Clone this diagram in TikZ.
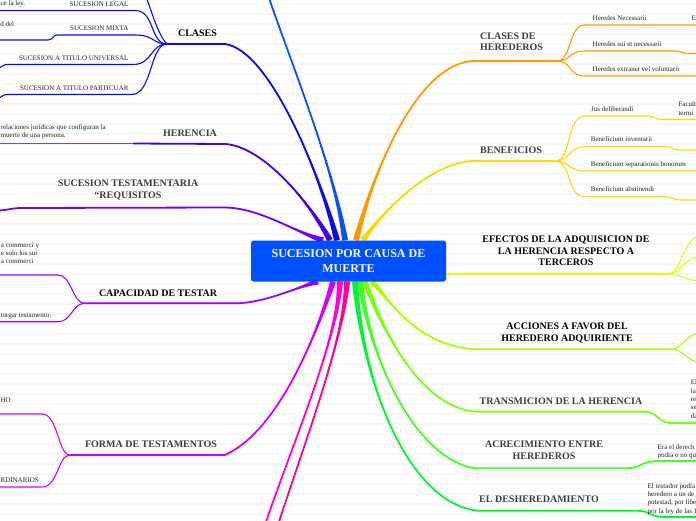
\documentclass[tikz,border=0pt]{standalone}
\usepackage{fontspec}
\setmainfont{Liberation Serif}
\usetikzlibrary{calc}
\definecolor{RootBlue}{HTML}{0050FF}
\definecolor{Azure}{HTML}{0A50FF}
\definecolor{Royal}{HTML}{0B0BEE}
\definecolor{Indigo}{HTML}{4400EE}
\definecolor{Violet}{HTML}{7000FF}
\definecolor{Purple}{HTML}{A000FF}
\definecolor{Orchid}{HTML}{D400FF}
\definecolor{Magenta}{HTML}{FF00DD}
\definecolor{Rose}{HTML}{FF0099}
\definecolor{Orange}{HTML}{FF9900}
\definecolor{Gold}{HTML}{FFD800}
\definecolor{Citron}{HTML}{DDFF00}
\definecolor{Chart}{HTML}{AAFF00}
\definecolor{Lime}{HTML}{77FF11}
\definecolor{Spring}{HTML}{44FF22}
\definecolor{Green}{HTML}{00F533}
\definecolor{Slate}{HTML}{3D3D3D}
\definecolor{Ink}{HTML}{222222}
\definecolor{Stripe}{HTML}{F7F7F7}
\pgfdeclarelayer{bg}
\pgfsetlayers{bg,main}
\tikzset{
  rootbox/.style={
    rounded corners=2.5pt,fill=RootBlue,text=white,align=center,
    minimum width=195pt,minimum height=41pt,inner sep=0pt,
    font=\fontsize{12}{14.4}\selectfont\bfseries
  },
  topic/.style={
    align=center,inner sep=0pt,text=Slate,execute at begin node=\strut,
    font=\fontsize{10}{11.3}\selectfont\bfseries
  },
  subtext/.style={inner sep=0pt,text=Ink,font=\fontsize{7}{8.3}\selectfont},
  leaftext/.style={
    inner sep=0pt,text=Ink,execute at begin node=\strut,
    font=\fontsize{7}{8.3}\selectfont
  },
  stem/.style={line width=1.8pt},
  twig/.style={line width=1.1pt},
  leafline/.style={line width=0.9pt}
}
% tapered main branch: colour, start, two controls, bend, rest of path
\newcommand\trunk[6]{%
  \fill[#1] ($(#2)!3pt!90:#3$) .. controls #3 and #4 .. #5
    .. controls #4 and #3 .. ($(#2)!3pt!-90:#3$) -- cycle;
  \draw[#1,stem] (#2) .. controls #3 and #4 .. #5 #6;}

\begin{document}
\begin{tikzpicture}[x=1pt,y=-1pt]
  \clip (0,0) rectangle (696,520);

  \node[rootbox] (root) at (348.5,261) {SUCESION POR CAUSA DE\\MUERTE};

  % topics
  \node[topic,text=black,anchor=base] (clases) at (197.5,36) {CLASES};
  \node[topic,anchor=base] (herencia) at (190,136) {HERENCIA};
  \node[topic,anchor=north] (testam) at (128,180.1) {SUCESION TESTAMENTARIA\\“REQUISITOS};
  \node[topic,align=left,anchor=north west] (claher) at (480,32.6) {CLASES DE\\HEREDEROS};
  \node[topic,anchor=base] (benef) at (511,153) {BENEFICIOS};
  \node[topic,text=black,anchor=north] (efectos) at (566,236.1) {EFECTOS DE LA ADQUISICION DE\\LA HERENCIA RESPECTO A\\TERCEROS};
  \node[topic,text=black,anchor=north] (acciones) at (567,323.1) {ACCIONES A FAVOR DEL\\HEREDERO ADQUIRIENTE};
  \node[topic,anchor=base] (transm) at (561,404) {TRANSMICION DE LA HERENCIA};
  \node[topic,anchor=north] (acrec) at (544,441.1) {ACRECIMIENTO ENTRE\\HEREDEROS};
  \node[topic,anchor=base] (desher) at (539,502) {EL DESHEREDAMIENTO};
  \node[topic,text=black,anchor=base] (capac) at (158,296) {CAPACIDAD DE TESTAR};
  \node[topic,anchor=base] (forma) at (151,447) {FORMA DE TESTAMENTOS};

  % subtopics
  \node[subtext,anchor=base east] (legal) at (128.7,6.3) {SUCESION LEGAL};
  \node[subtext,anchor=base east] (mixta) at (128.7,30.8) {SUCESION MIXTA};
  \node[subtext,anchor=base east] (univ) at (128.7,60.3) {SUCESION A TITULO UNIVERSAL};
  \node[subtext,anchor=base east] (partic) at (128.7,90.3) {SUCESION A TITULO PARTICUAR};
  \node[subtext,anchor=base west] (necess) at (592.5,20.3) {Heredes Necessarii};
  \node[subtext,anchor=base west] (suinec) at (592.5,46) {Heredes sui et necessarii};
  \node[subtext,anchor=base west] (extran) at (592.5,71.7) {Heredes extranei vel voluntarii};
  \node[subtext,anchor=base west] (jus) at (591,111.7) {Jus deliberandi};
  \node[subtext,anchor=base west] (invent) at (590.7,141) {Beneficium inventarii};
  \node[subtext,anchor=base west] (separ) at (590.7,166.7) {Beneficium separationis bonorum};
  \node[subtext,anchor=base west] (abstin) at (590.7,191.7) {Beneficium abstinendi};
  \node[subtext,anchor=base west] (formaHo) at (0.4,402.5) {HO};
  \node[subtext,anchor=base west] (formaOrd) at (0.4,482.7) {RDINARIOS};

  % leaves
  \node[leaftext,anchor=base west] (legalLeaf) at (0.4,5.5) {ce la ley.};
  \node[leaftext,anchor=base east] (mixtaLeaf) at (14.3,26.3) {d del};
  \node[leaftext,align=left,anchor=north west] (herLeaf) at (0.5,124.2) {relaciones jurídicas que configuran la\\muerte de una persona.};
  \node[leaftext,anchor=base west] (capLeafA) at (0.8,247) {a commerci y};
  \node[leaftext,anchor=base west] (capLeafB) at (0.8,255.3) {e solo los sui};
  \node[leaftext,anchor=base west] (capLeafC) at (0.8,263.3) {a commerci};
  \node[leaftext,anchor=base west] (capLeafD) at (0.4,317) {torgar testamento:};
  \node[leaftext,anchor=base west] (necLeaf) at (691.5,20) {E};
  \node[leaftext,align=left,anchor=north west] (jusLeaf) at (678.3,101.7) {Facult\\termi};
  \node[leaftext,align=left,anchor=north west] (transLeaf) at (690.7,379.8) {El\\la\\re\\se\\da};
  \node[leaftext,align=left,anchor=north west] (acrecLeaf) at (657.5,444.2) {Era el derech\\podia o no qu};
  \node[leaftext,align=left,anchor=north west] (desLeaf) at (647.5,483.2) {El testador podia\\heredero a un de\\potestad, por libe\\por la ley de las 1};

  % branch starts and junctions
  \coordinate (sTop) at ([xshift=-3.5pt]root.north);
  \coordinate (sClases) at ([xshift=-11.5pt]root.north);
  \coordinate (sHeren) at ([xshift=-18.5pt]root.north);
  \coordinate (sTestam) at ([xshift=-25.5pt]root.north);
  \coordinate (sClaHer) at ([xshift=7.5pt]root.north);
  \coordinate (sBenef) at ([xshift=14.5pt]root.north);
  \coordinate (sCapac) at ([xshift=-30.5pt]root.south);
  \coordinate (sForma) at ([xshift=-15.5pt]root.south);
  \coordinate (sPinkA) at ([xshift=-8.5pt]root.south);
  \coordinate (sPinkB) at ([xshift=-1.5pt]root.south);
  \coordinate (sDesher) at ([xshift=6.5pt]root.south);
  \coordinate (sAcrec) at ([xshift=11.5pt]root.south);
  \coordinate (sTransm) at ([xshift=16.5pt]root.south);
  \coordinate (sAccion) at ([xshift=23.5pt]root.south);
  \coordinate (jClases) at (167,44);
  \coordinate (jHeren) at (133,143.5);
  \coordinate (jClaHer) at (557,61);
  \coordinate (jBenef) at (555,161);
  \coordinate (jEfect) at (668,274);
  \coordinate (jAccion) at (672,349.3);
  \coordinate (jCapac) at (85,303.3);
  \coordinate (jForma) at (70,455);

  \begin{pgfonlayer}{bg}
    \foreach \y in {4,14,...,514}
      \draw[Stripe,line width=2pt] (0,\y) -- (696,\y);

    % main branches
    \trunk{Azure}{sTop}{(335,170)}{(290,60)}{(268,-5)}{}
    \trunk{Royal}{sClases}{(320,175)}{(270,50)}{(225,44)}{-- (jClases)}
    \trunk{Indigo}{sHeren}{(305,195)}{(260,146)}{(225,144)}{-- (jHeren)}
    \trunk{Violet}{sTestam}{(295,232)}{(260,208)}{(225,207.5)}{-- (22,208) .. controls (12,208) and (8,210) .. (-1,210.5) coordinate (oTestam)}
    \trunk{Orange}{sClaHer}{(375,165)}{(420,61)}{(475,61)}{-- (jClaHer)}
    \trunk{Gold}{sBenef}{(380,215)}{(430,161)}{(475,161)}{-- (jBenef)}
    \draw[Citron,stem,line width=2.2pt] (root.east |- jEfect) -- (jEfect);
    \trunk{Chart}{sAccion}{(390,300)}{(415,345)}{(475,349.3)}{-- (jAccion)}
    \trunk{Lime}{sTransm}{(390,350)}{(430,411.7)}{(480,411.7)}{-- (645,411.7) .. controls (658,411.7) and (657,423) .. (672,423) -- (697,423) coordinate (oTransm)}
    \trunk{Spring}{sAcrec}{(372,370)}{(420,460)}{(475,468.3)}{-- (627,468.3) .. controls (640,468.3) and (642,461) .. (658,461) -- (697,461) coordinate (oAcrec)}
    \trunk{Green}{sDesher}{(365,400)}{(415,505)}{(478,510.7)}{-- (637,510.7) .. controls (650,510.7) and (650,517) .. (665,517) -- (697,517) coordinate (oDesher)}
    \trunk{Purple}{sCapac}{(300,286)}{(265,303.3)}{(235,303.3)}{-- (jCapac)}
    \trunk{Orchid}{sForma}{(318,330)}{(280,430)}{(225,455)}{-- (jForma)}
    \trunk{Magenta}{sPinkA}{(338,340)}{(290,450)}{(265,525)}{}
    \trunk{Rose}{sPinkB}{(344,340)}{(302,450)}{(278,525)}{}

    % CLASES
    \draw[Royal,twig] (jClases) .. controls (158,35) and (152,12) .. (146,-3) coordinate (oClases);
    \draw[Royal,twig] (jClases) .. controls (150,44) and (155,10.5) .. (135,10.5) -- (-1,10.5) coordinate (oLegal);
    \draw[Royal,twig] (jClases) .. controls (152,44) and (155,35) .. (135,35) -- (57,35)
      .. controls (53,35) and (53,40) .. (48,40) -- (-1,40) coordinate (oMixta);
    \draw[Royal,twig] (jClases) .. controls (150,44) and (153,64.5) .. (133,64.5) -- (7,64.5)
      .. controls (3,64.5) and (2,67) .. (-1,68) coordinate (oUniv);
    \draw[Royal,twig] (jClases) .. controls (150,44) and (152,94.5) .. (132,94.5) -- (7,94.5)
      .. controls (3,94.5) and (2,97) .. (-1,98) coordinate (oPartic);
    % HERENCIA
    \draw[Indigo!75,leafline] (jHeren) -- (-1,143.5) coordinate (oHeren);
    % CLASES DE HEREDEROS
    \draw[Orange,twig] (jClaHer) .. controls (572,61) and (568,25) .. (585,25) -- (697,25) coordinate (oNecess);
    \draw[Orange,twig] (jClaHer) .. controls (572,61) and (568,51) .. (585,51) -- (676,51)
      .. controls (681,51) and (682,53.5) .. (688,53.5) -- (697,53.5) coordinate (oSuinec);
    \draw[Orange,twig] (jClaHer) .. controls (572,61) and (568,76) .. (585,76) -- (697,76) coordinate (oExtran);
    % BENEFICIOS
    \draw[Gold,twig] (jBenef) .. controls (572,161) and (566,116) .. (585,116) -- (648,116)
      .. controls (654,116) and (655,119.5) .. (662,119.5) -- (697,119.5) coordinate (oJus);
    \draw[Gold,twig] (jBenef) .. controls (570,161) and (568,146.7) .. (585,146.7) -- (667,146.7)
      .. controls (672,146.7) and (673,150) .. (680,150) -- (697,150) coordinate (oInvent);
    \draw[Gold,twig] (jBenef) .. controls (570,161) and (568,171) .. (585,171) -- (697,171) coordinate (oSepar);
    \draw[Gold,twig] (jBenef) .. controls (572,161) and (566,196.7) .. (585,196.7) -- (667,196.7)
      .. controls (672,196.7) and (673,200) .. (680,200) -- (697,200) coordinate (oAbstin);
    % EFECTOS
    \draw[Citron,twig] (jEfect) .. controls (680,274) and (682,245) .. (697,236) coordinate (oEfectA);
    \draw[Citron,twig] (jEfect) .. controls (680,274) and (684,259) .. (697,257) coordinate (oEfectB);
    \draw[Citron,twig] (jEfect) .. controls (680,274) and (685,279) .. (697,281) coordinate (oEfectC);
    % ACCIONES
    \draw[Chart,twig] (jAccion) .. controls (682,349.3) and (684,336) .. (697,334) coordinate (oAccionA);
    \draw[Chart,twig] (jAccion) .. controls (682,349.3) and (686,359) .. (697,362) coordinate (oAccionB);
    % CAPACIDAD DE TESTAR
    \draw[Purple,twig] (jCapac) .. controls (72,303.3) and (72,275) .. (58,275) -- (-1,275) coordinate (oCapacA);
    \draw[Purple,twig] (jCapac) .. controls (72,303.3) and (72,321.7) .. (58,321.7) -- (-1,321.7) coordinate (oCapacB);
    % FORMA DE TESTAMENTOS
    \draw[Orchid,twig] (jForma) .. controls (58,455) and (58,414) .. (42,414) -- (-1,414) coordinate (oFormaA);
    \draw[Orchid,twig] (jForma) .. controls (58,455) and (58,487) .. (42,487) -- (-1,487) coordinate (oFormaB);
  \end{pgfonlayer}
\end{tikzpicture}
\end{document}
